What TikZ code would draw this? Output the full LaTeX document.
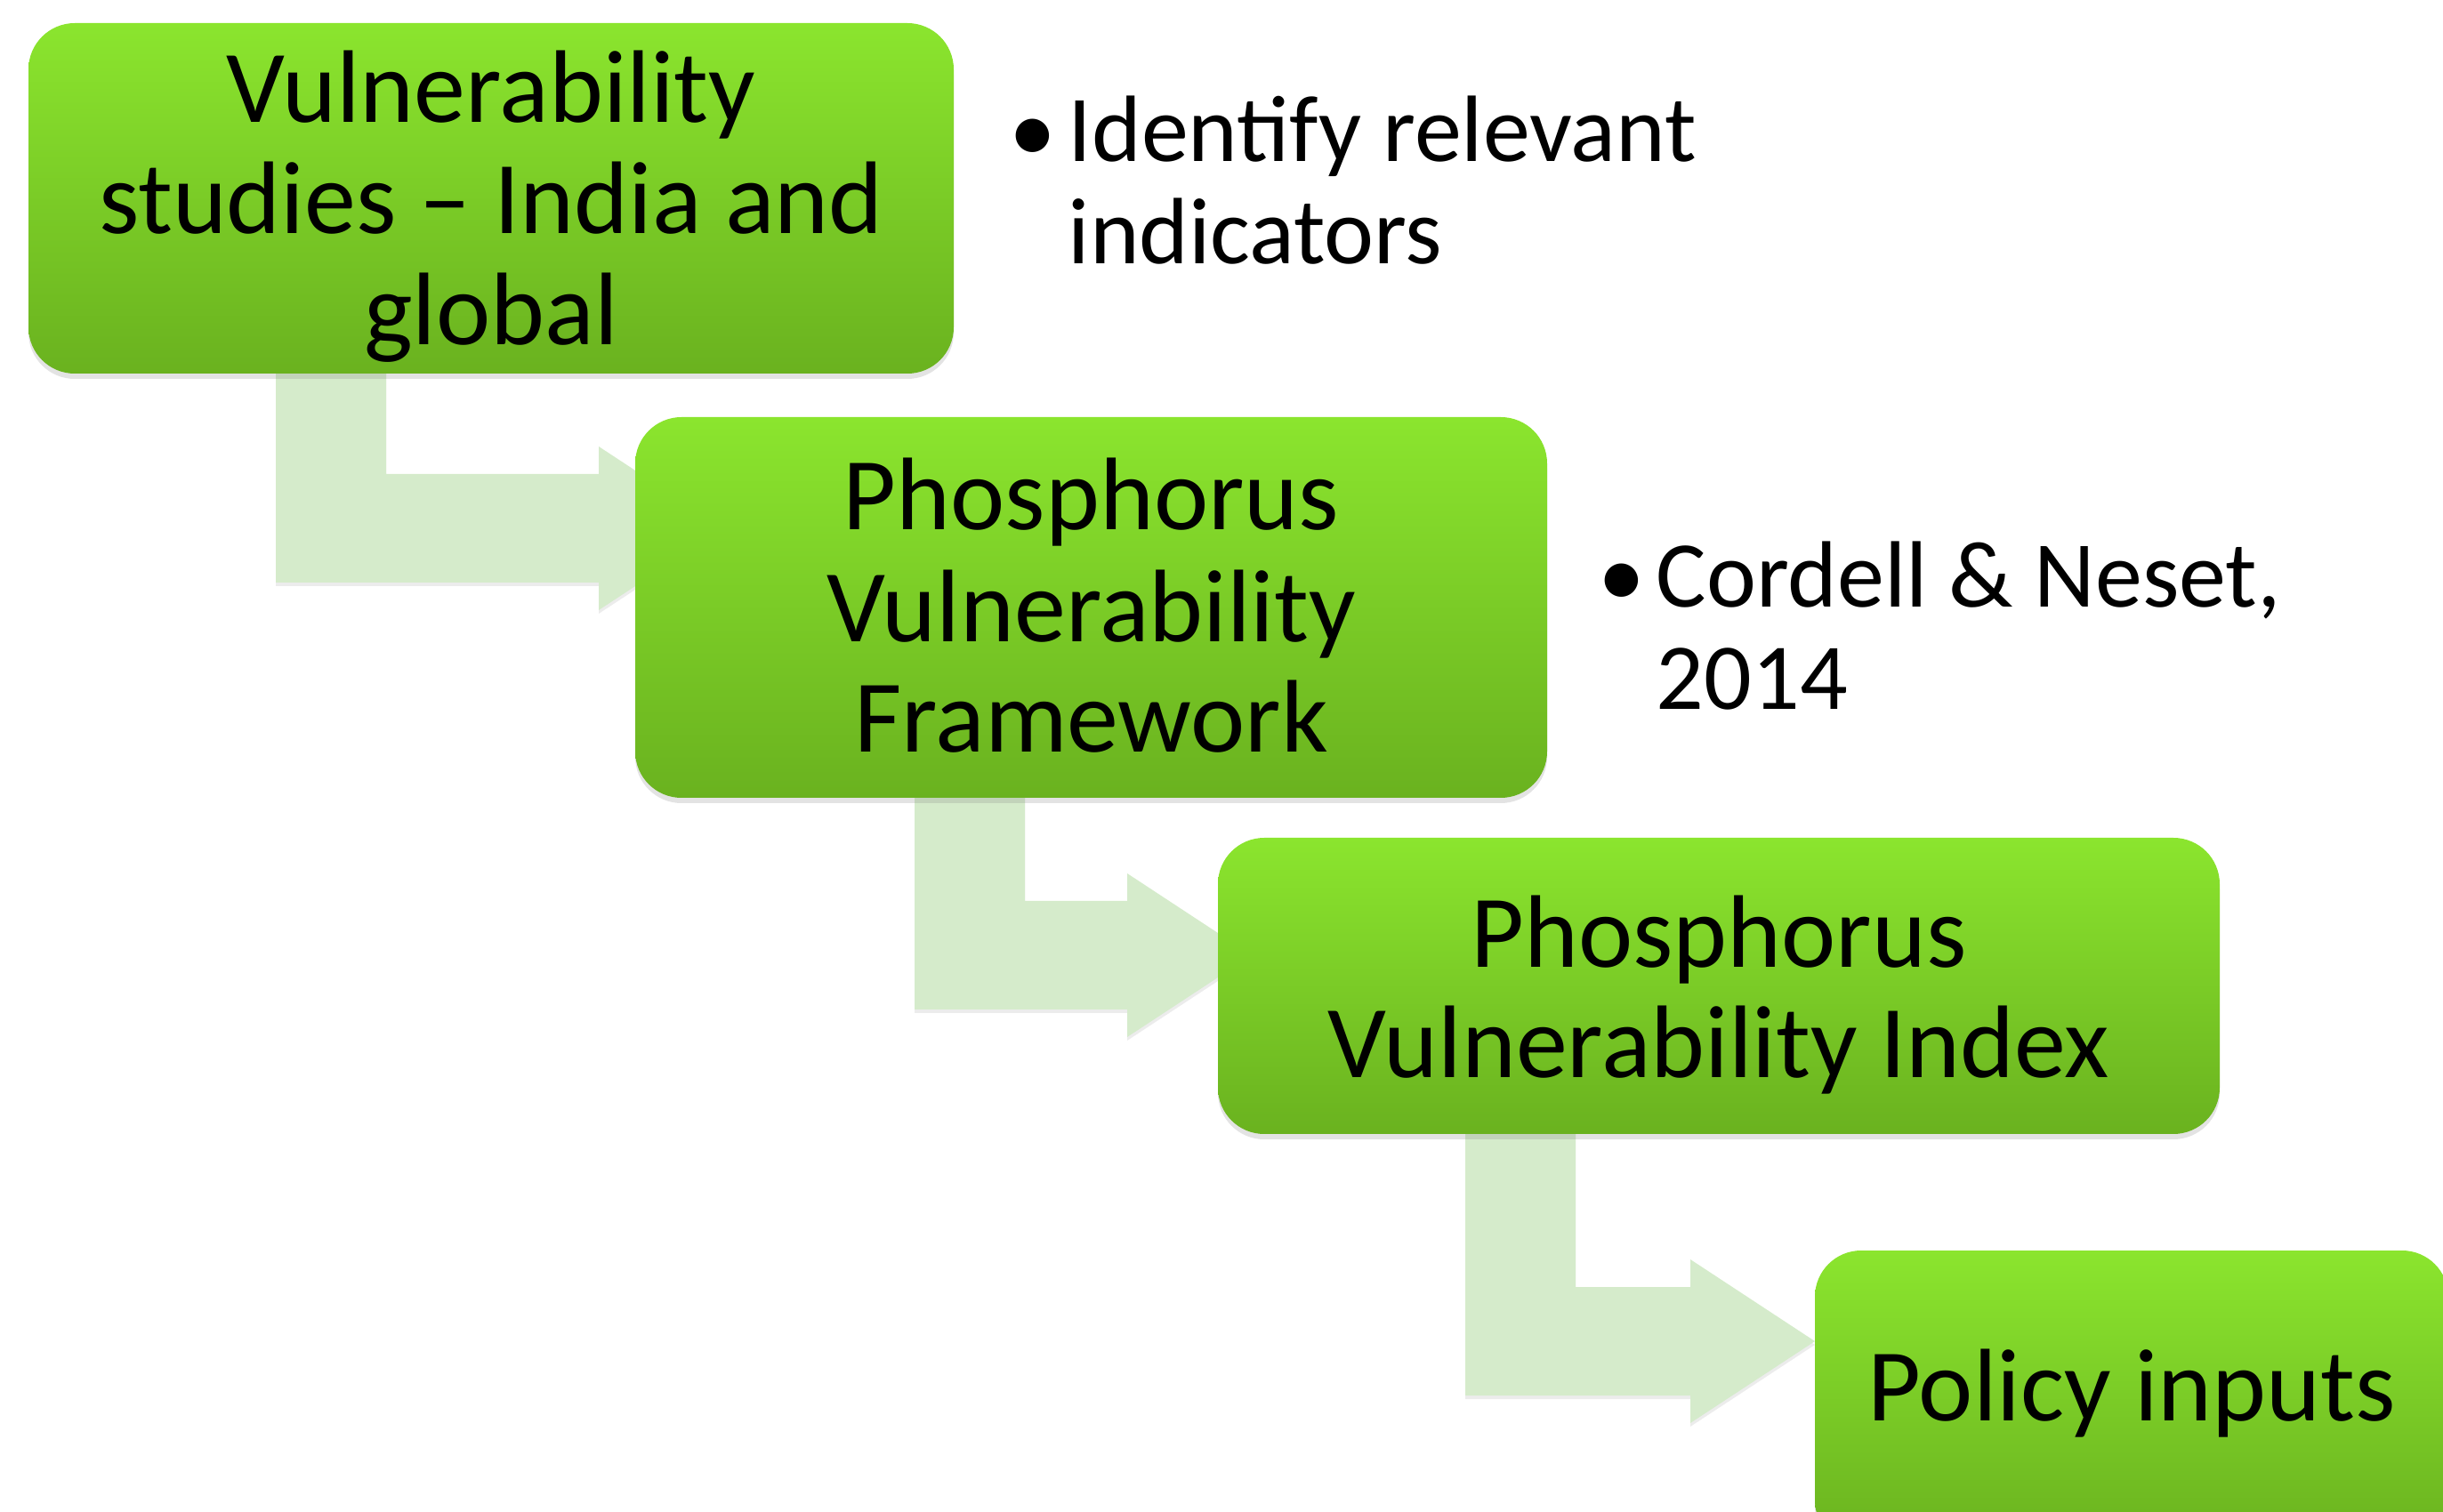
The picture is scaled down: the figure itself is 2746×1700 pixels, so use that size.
\documentclass[tikz,border=0pt]{standalone}
\usepackage{fontspec}
\setmainfont{Carlito}
\usetikzlibrary{shadows}
\definecolor{boxtop}{RGB}{139,229,46}
\definecolor{boxbot}{RGB}{106,178,31}
\definecolor{flowgreen}{RGB}{213,235,203}

% bent arrow: #1 source node, #2 stem left x, #3 band top y, #4 head base x
\newcommand{\bentarrow}[4]{%
  \fill[flow] (#2,0 |- #1.center) -- (#2+124,0 |- #1.center) -- (#2+124,#3)
    -- (#4,#3) -- (#4,#3-31) -- (#4+140,#3+61) -- (#4,#3+153) -- (#4,#3+122)
    -- (#2,#3+122) -- cycle;
}

\begin{document}
\begin{tikzpicture}[x=0.25pt, y=-0.25pt,
    box/.style={rounded corners=13pt, top color=boxtop, bottom color=boxbot,
      draw=none, align=center, inner sep=0pt, text depth=8pt,
      font=\fontsize{29}{31.25}\selectfont,
      drop shadow={shadow xshift=0pt, shadow yshift=-1.5pt, opacity=.22}},
    flow/.style={flowgreen,
      drop shadow={shadow xshift=0pt, shadow yshift=-1pt, opacity=.15}},
    note/.style={align=left, inner sep=0pt, font=\fontsize{26.5}{28.75}\selectfont}]
		\useasboundingbox (0,0) rectangle (2746,1700);
		\clip (0,0) rectangle (2746,1700);

		% --- Arrows (behind the boxes) ---
		\coordinate (vulnc) at (552,223);
		\coordinate (framec) at (1226.5,683);
		\coordinate (indexc) at (1932,1108.5);
		\bentarrow{vulnc}{310}{533}{673}
		\bentarrow{framec}{1028}{1013}{1267}
		\bentarrow{indexc}{1647}{1447}{1900}

		% --- Boxes ---
		\node[box, minimum width=260pt, minimum height=98.5pt, text height=90.5pt]
			(vuln) at (vulnc) {Vulnerability\\studies – India and\\global};
		\node[box, minimum width=256.25pt, minimum height=107pt, text height=89.5pt]
			(frame) at (framec) {Phosphorus\\Vulnerability\\Framework};
		\node[box, minimum width=281.5pt, minimum height=83.25pt, text height=59.75pt]
			(index) at (indexc) {Phosphorus\\Vulnerability Index};
		\node[box, minimum width=178pt, minimum height=83.25pt, text height=20.25pt]
			(policy) at (2396,1572.5) {Policy inputs};

		% --- Side notes ---
		\node[note, anchor=base west] (idbul) at (1134,183) {•};
		\node[note, anchor=base west] (idnote) at (1200,297) {Identify relevant\\indicators};
		\node[note, anchor=base west] (cnbul) at (1796,683) {•};
		\node[note, anchor=base west] (cnnote) at (1861,798) {Cordell \& Neset,\\2014};
	\end{tikzpicture}
\end{document}
